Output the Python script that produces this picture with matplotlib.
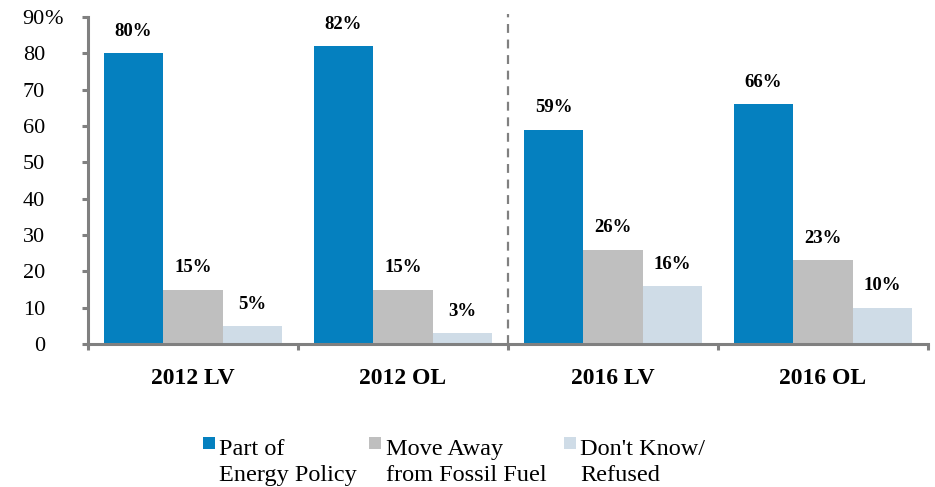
import matplotlib
matplotlib.use("Agg")
import matplotlib.pyplot as plt
from matplotlib.patches import Rectangle
import numpy as np

# chart data
groups = ["2012 LV", "2012 OL", "2016 LV", "2016 OL"]
series_names = ["Part of\nEnergy Policy", "Move Away\nfrom Fossil Fuel", "Don't Know/\nRefused"]
part_of_policy = [80, 82, 59, 66]
move_away = [15, 15, 26, 23]
dont_know = [5, 3, 16, 10]
yticks = [0, 10, 20, 30, 40, 50, 60, 70, 80, 90]

colors = ["#0580BF", "#BFBFBF", "#CFDCE7"]
axis_grey = "#808080"

plt.rcParams["font.family"] = ["Liberation Serif", "DejaVu Serif"]

fig = plt.figure(figsize=(9.35, 4.87), dpi=100)
ax = fig.add_axes([0.0941, 0.2936, 0.8984, 0.6715])

x = np.arange(len(groups))
w = 0.283
all_series = [part_of_policy, move_away, dont_know]
for i, vals in enumerate(all_series):
    bars = ax.bar(x + (i - 1) * w, vals, width=w, color=colors[i], linewidth=0)
    # value labels above each bar
    for b, v in zip(bars, vals):
        ax.annotate(f"{v}%", (b.get_x() + b.get_width() / 2, v),
                    xytext=(0, 9.5), textcoords="offset points",
                    ha="center", va="bottom", fontsize=13.5, fontweight="bold")

ax.set_xlim(-0.5, len(groups) - 0.5)
ax.set_ylim(0, 90)

# y axis: labels right aligned, the % of the top label hangs past them
ax.set_yticks(yticks)
ax.set_yticklabels([str(t) for t in yticks], fontsize=16)
ax.tick_params(axis="y", direction="out", length=4.5, width=2.2, color=axis_grey, pad=26.5)
ax.annotate("%", xy=(0, yticks[-1]), xycoords=("axes fraction", "data"),
            xytext=(-31.5, 0), textcoords="offset points",
            ha="left", va="center_baseline", fontsize=16)

# x axis: ticks at group boundaries, labels at group centers
ax.set_xticks(np.arange(len(groups) + 1) - 0.5)
ax.set_xticklabels([])
ax.tick_params(axis="x", which="major", direction="out", length=4.5, width=2.2, color=axis_grey)
ax.set_xticks(x, minor=True)
ax.set_xticklabels(groups, minor=True, fontsize=17, fontweight="bold")
ax.tick_params(axis="x", which="minor", length=0, pad=17)

for s in ["top", "right"]:
    ax.spines[s].set_visible(False)
for s in ["left", "bottom"]:
    ax.spines[s].set_color(axis_grey)
    ax.spines[s].set_linewidth(2.2)

# divider between 2012 and 2016
ax.axvline(1.5, ymin=0, ymax=1.01, color=axis_grey, linestyle=(0, (4, 3)),
           linewidth=1.6, clip_on=False)

# legend drawn by hand so the swatch sits on the first line
leg_x = [0.217, 0.395, 0.603]
for i, name in enumerate(series_names):
    fig.add_artist(Rectangle((leg_x[i], 0.078), 0.0128, 0.0246,
                             transform=fig.transFigure, color=colors[i], lw=0))
    fig.text(leg_x[i] + 0.0175, 0.0123, name, fontsize=17.5, va="baseline", ha="left",
             linespacing=1.32)

fig.savefig("out.png", dpi=100)
